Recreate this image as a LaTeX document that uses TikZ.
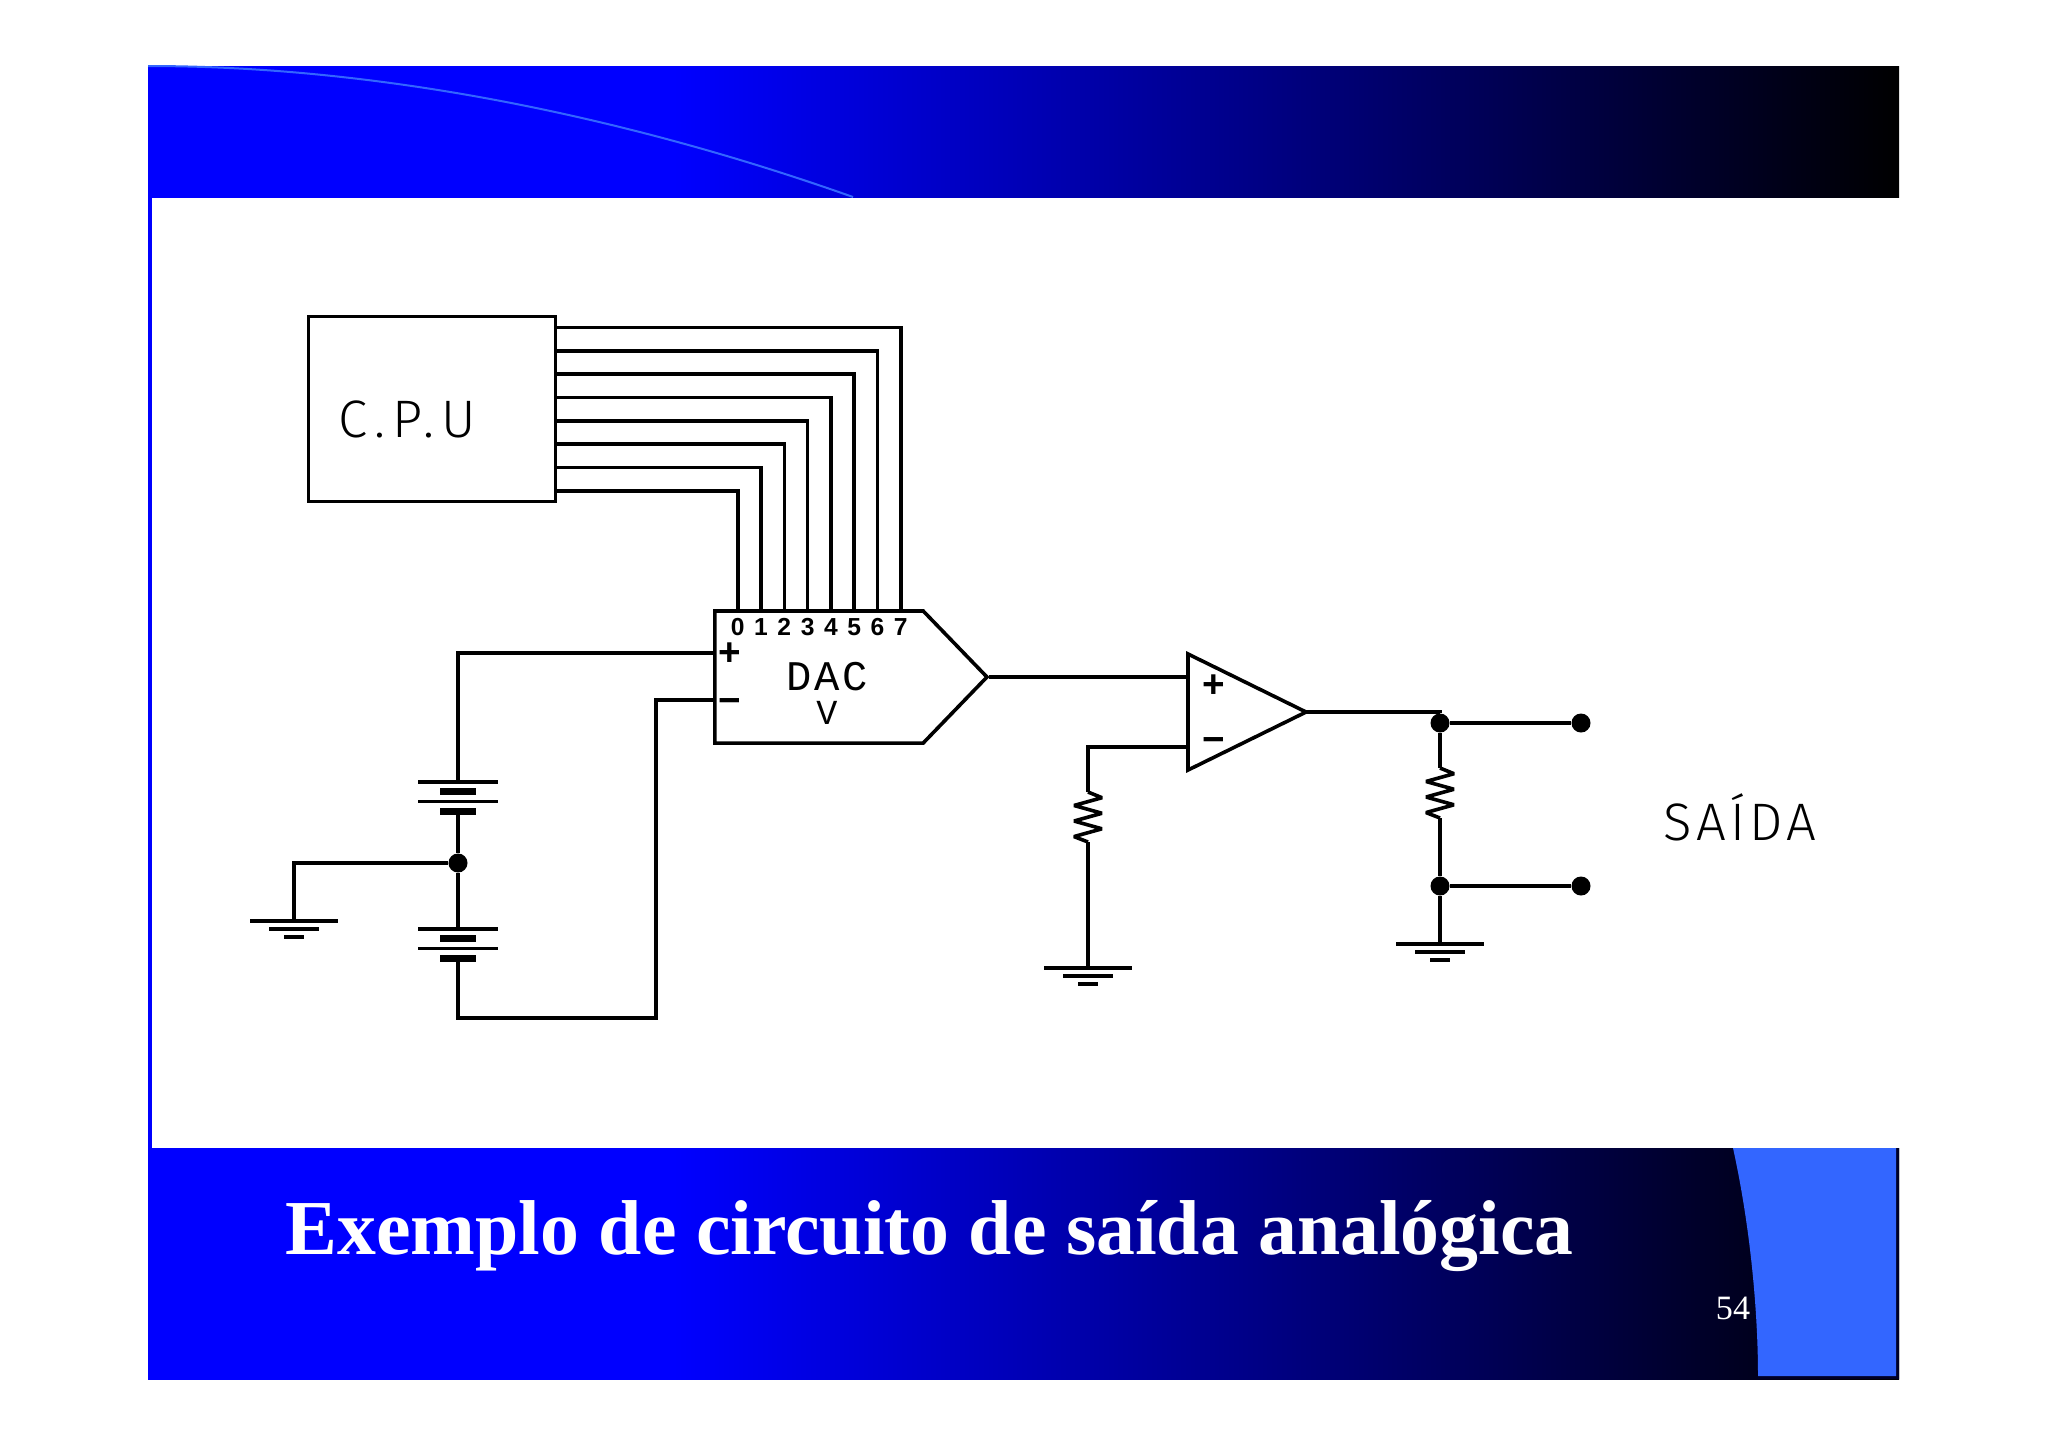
\documentclass[tikz,border=0pt]{standalone}
\usepackage{fontspec}
\setmainfont{Liberation Serif}
\newfontfamily\pixfont[LetterSpace=7]{Liberation Mono}
\newfontfamily\pixsans{Liberation Sans}
\newfontfamily\cpufont[UprightFont=* Light,LetterSpace=14]{Fira Sans}
\newfontfamily\outfont[UprightFont=* Light,LetterSpace=8]{Fira Sans}
\usetikzlibrary{shapes.geometric,shapes.symbols}
\definecolor{panelblue}{RGB}{51,102,255}
\pgfdeclarehorizontalshading{bandshade}{100bp}{color(0bp)=(blue); color(40bp)=(blue); color(75bp)=(black); color(100bp)=(black)}
\tikzset{
    wire/.style={line width=0.036cm,black},
    heavy/.style={line width=0.07cm,black},
    dot/.style={circle,fill=black,inner sep=0pt,minimum size=0.19cm},
    tag/.style={inner sep=0pt,font=\pixsans\bfseries\fontsize{7}{7}\selectfont},
    sign/.style={inner sep=0pt,font=\pixsans\bfseries\fontsize{11}{11}\selectfont},
    dactext/.style={inner sep=0pt,font=\pixfont\fontsize{12}{12}\selectfont},
    voltag/.style={inner sep=0pt,font=\pixfont\fontsize{10}{10}\selectfont},
    cputag/.style={inner sep=0pt,font=\cpufont\fontsize{15}{15}\selectfont},
    outtag/.style={inner sep=0pt,font=\outfont\fontsize{15}{15}\selectfont},
}
\begin{document}
\begin{tikzpicture}[x=0.01cm,y=-0.01cm]
    \useasboundingbox (0,0) rectangle (2048,1447);
    \fill [white] (0,0) rectangle (2048,1447);
    \shade [shading=bandshade] (148,66) rectangle (1899,197);
    \shade [shading=bandshade] (148,1148) rectangle (1899,1379);
    \fill [blue] (148,197) rectangle (152,1148);
    \draw [panelblue,line width=0.02cm] (148,66) .. controls (400,66) and (650,125) .. (853,197);
    \fill [black!85!blue] (1733,1148) .. controls (1750,1225) and (1758,1310) .. (1758,1379) -- (1899,1379) -- (1899,1148) -- cycle;
    \fill [panelblue] (1733,1148) .. controls (1750,1225) and (1758,1310) .. (1758,1376) -- (1896,1376) -- (1896,1148) -- cycle;
    \node [anchor=base west,inner sep=0pt,white,font=\bfseries\fontsize{22.11}{22.11}\selectfont] (title) at (285,1254) {Exemplo de circuito de saída analógica};
    \node [inner sep=0pt,white,font=\fontsize{9.7}{9.7}\selectfont] (page) at (1733,1308) {54};

    \node [draw,wire,minimum width=2.47cm,minimum height=1.85cm,inner sep=0pt] (cpu) at (432,409) {};
    \node [cputag] (cputext) at (407,419) {C.P.U};
    \node [draw,wire,signal,signal to=east,signal pointer angle=92,minimum width=2.72cm,minimum height=1.32cm,inner sep=0pt] (dac) at (819,677) {};
    \node [dactext] (dactext) at (827,677) {DAC};
    \node [voltag] (voltext) at (827,713) {V};
    \node [sign] (dacplus) at (730,654) {+};
    \node [sign] (dacminus) at (730,706) {−};
    \foreach \i in {0,...,7} {
        \pgfmathparse{737.7+23.3*\i}
        \let\xx\pgfmathresult
        \pgfmathparse{490.7-23.3*\i}
        \let\yy\pgfmathresult
        \coordinate (tap\i) at (556,\yy);
        \coordinate (pin\i) at (\xx,611);
        \draw [wire] (tap\i) -| (pin\i);
        \node [tag] (bit\i) at (\xx,627) {\i};
    }

    \node [draw,wire,isosceles triangle,isosceles triangle stretches,minimum height=1.18cm,minimum width=1.16cm,inner sep=0pt,outer sep=0pt,anchor=lower side] (amp) at (1188,712) {};
    \node [sign] (ampplus) at (1214,686) {+};
    \node [sign] (ampminus) at (1214,745) {−};
    \coordinate (ampin) at (1188,677);
    \coordinate (ampfb) at (1188,747);

    \foreach \n/\x/\y in {rleft/1088/792,rright/1440/768} {
        \coordinate (\n top) at (\x,\y);
        \coordinate (\n bot) at (\x,\y+50);
        \draw [wire,line join=bevel] (\n top) -- ++(14,5.7) -- ++(-28,7.77) -- ++(28,7.77) -- ++(-28,7.77) -- ++(28,7.77) -- ++(-28,7.77) -- (\n bot);
    }
    \foreach \n/\x/\y in {gleft/294/921,gmid/1088/968,gright/1440/944} {
        \coordinate (\n) at (\x,\y);
        \draw [wire] (\x-44,\y) -- (\x+44,\y);
        \draw [wire] (\x-25,\y+8) -- (\x+25,\y+8);
        \draw [wire] (\x-10,\y+16) -- (\x+10,\y+16);
    }
    \foreach \n/\y in {bata/782,batb/929} {
        \coordinate (\n top) at (458,\y);
        \coordinate (\n bot) at (458,\y+29);
        \draw [wire] (418,\y) -- (498,\y);
        \draw [heavy] (440,\y+9.5) -- (476,\y+9.5);
        \draw [wire] (418,\y+19.5) -- (498,\y+19.5);
        \draw [heavy] (440,\y+29) -- (476,\y+29);
    }

    \node [dot] (jgnd) at (458,863) {};
    \node [dot] (jtop) at (1440,723) {};
    \node [dot] (jbot) at (1440,886) {};
    \node [dot] (outtop) at (1581,723) {};
    \node [dot] (outbot) at (1581,886) {};
    \node [outtag] (saida) at (1740,817) {SAÍDA};
    \coordinate (vplus) at (714,653);
    \coordinate (vminus) at (714,700);
    \coordinate (vcorner) at (656,1018);

    \draw [wire] (batatop) |- (vplus);
    \draw [wire] (batabot) -- (jgnd);
    \draw [wire] (jgnd) -- (batbtop);
    \draw [wire] (batbbot) |- (vcorner) |- (vminus);
    \draw [wire] (jgnd) -| (gleft);
    \draw [wire] (dac.east) -- (ampin);
    \draw [wire] (ampfb) -| (rlefttop);
    \draw [wire] (rleftbot) -- (gmid);
    \draw [wire] (amp.apex) -| (jtop);
    \draw [wire] (jtop) -- (rrighttop);
    \draw [wire] (rrightbot) -- (jbot);
    \draw [wire] (jbot) -- (gright);
    \draw [wire] (jtop) -- (outtop);
    \draw [wire] (jbot) -- (outbot);
\end{tikzpicture}
\end{document}
